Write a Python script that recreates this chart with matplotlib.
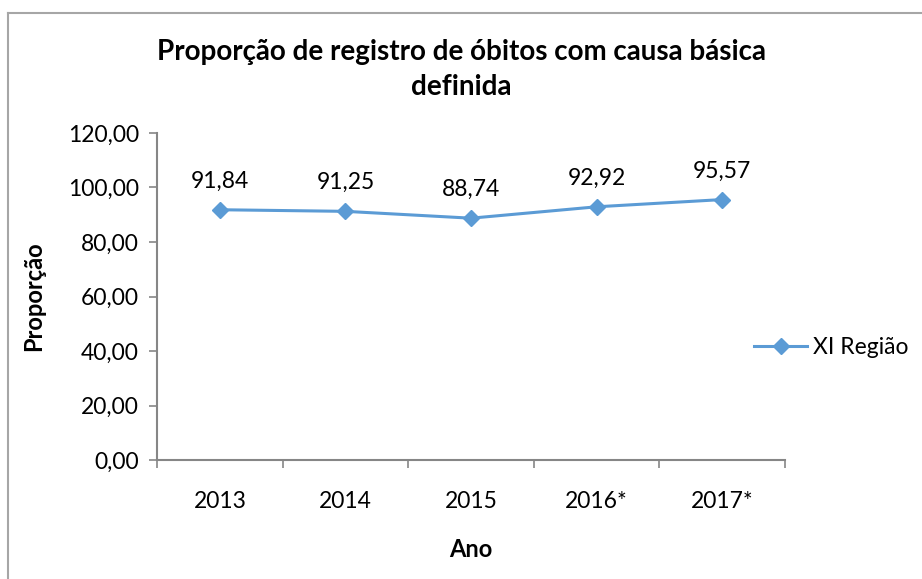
import numpy as np
import matplotlib.pyplot as plt
from matplotlib.lines import Line2D

# Chart data
anos = ["2013", "2014", "2015", "2016*", "2017*"]
proporcao = [91.84, 91.25, 88.74, 92.92, 95.57]
serie_nome = "XI Região"

plt.rcParams['font.family'] = ['Lato', 'DejaVu Sans']

fig = plt.figure(figsize=(9.22, 5.79), dpi=100)
ax = fig.add_axes([0.1703, 0.2055, 0.6811, 0.5648])

cor = '#5B9BD5'
eixo = '#868686'
fs = 16.5
x = np.arange(len(anos))

ax.plot(x, proporcao, color=cor, linewidth=2.2, marker='D', markersize=8.5,
        markerfacecolor=cor, markeredgecolor=cor)

# Data labels above each point
for xi, v in zip(x, proporcao):
    ax.annotate(f"{v:.2f}".replace('.', ','), (xi, v), xytext=(0, 13),
                textcoords='offset points', ha='center', va='bottom', fontsize=fs)

ax.set_xlim(-0.5, len(anos) - 0.5)
ax.set_ylim(0, 120)
ax.set_yticks(np.arange(0, 121, 20))
ax.set_yticklabels([f"{v:.2f}".replace('.', ',') for v in np.arange(0, 121, 20)], fontsize=fs)

ax.set_xticks(x)
ax.set_xticklabels(anos, fontsize=fs)
ax.set_xticks(np.arange(-0.5, len(anos), 1), minor=True)
ax.tick_params(axis='x', which='major', length=0, pad=22)
ax.tick_params(axis='x', which='minor', length=6, color=eixo, width=1.2, direction='out')
ax.tick_params(axis='y', length=6, color=eixo, width=1.2, direction='out', pad=7)

for s in ['top', 'right']:
    ax.spines[s].set_visible(False)
for s in ['left', 'bottom']:
    ax.spines[s].set_color(eixo)
    ax.spines[s].set_linewidth(1.5)

ax.set_xlabel("Ano", fontsize=17, fontweight='bold', labelpad=19)
ax.set_ylabel("Proporção", fontsize=17, fontweight='bold', labelpad=16)

fig.text(0.5, 0.88, "Proporção de registro de óbitos com causa básica\ndefinida",
         ha='center', va='center', fontsize=20, fontweight='bold', linespacing=1.45)

# Legend
handle = Line2D([], [], color=cor, linewidth=2.2, marker='D', markersize=8.5,
                markerfacecolor=cor, markeredgecolor=cor)
fig.legend([handle], [serie_nome], loc='center left', bbox_to_anchor=(0.818, 0.40),
           frameon=False, fontsize=fs, handlelength=2.3, handletextpad=0.25,
           borderpad=0, borderaxespad=0)

# Chart border (left and top visible)
fig.add_artist(Line2D([0.009, 0.009], [0, 0.978], color='#a6a6a6', linewidth=1.5,
                      transform=fig.transFigure))
fig.add_artist(Line2D([0.009, 1], [0.978, 0.978], color='#a6a6a6', linewidth=1.5,
                      transform=fig.transFigure))

fig.savefig("out.png", dpi=100)
